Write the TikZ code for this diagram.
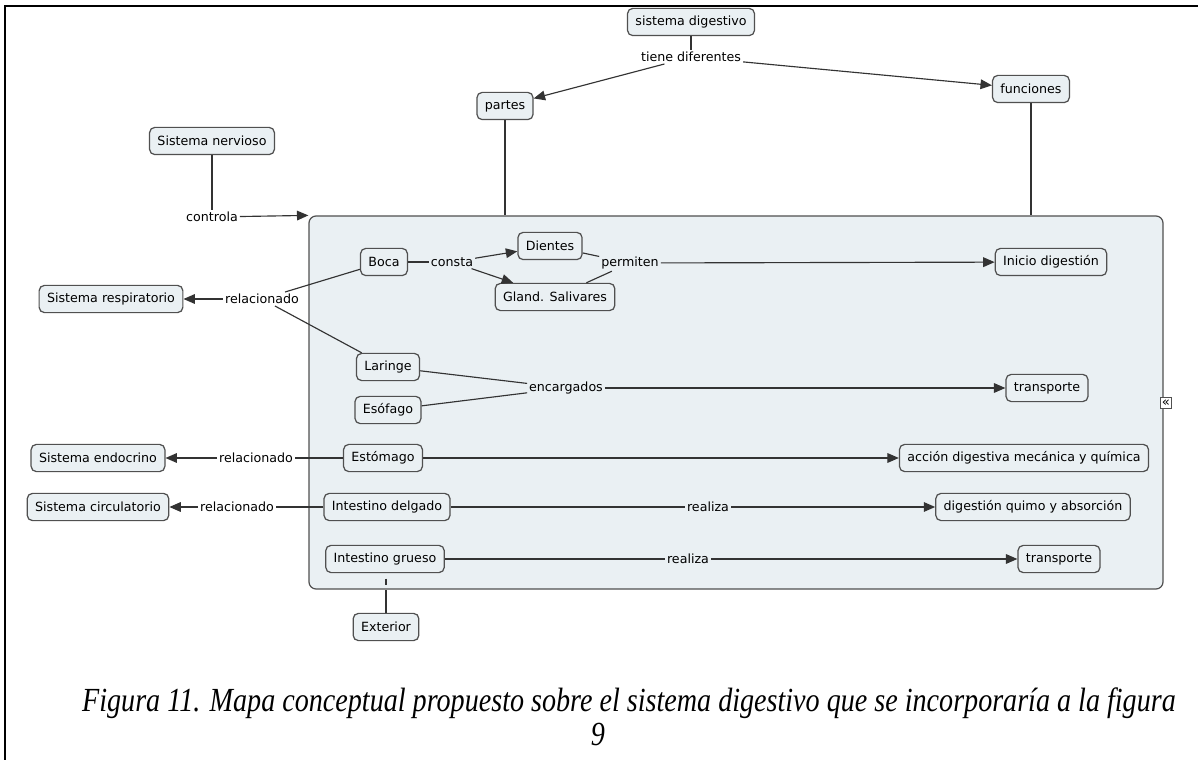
\documentclass[tikz,border=0pt]{standalone}
\usepackage{fontspec}
\usepackage{graphicx}
\setmainfont{Liberation Serif}
\newfontfamily\cmapfont{DejaVu Sans}
\usetikzlibrary{arrows.meta,fit}
\definecolor{cmapfill}{HTML}{EAF0F3}
\definecolor{cmapline}{HTML}{505050}
\tikzset{
  concepto/.style={draw=cmapline, fill=cmapfill, rounded corners=3pt, line width=0.7pt,
    inner xsep=4.5pt, inner ysep=0pt, minimum height=15.5pt},
  enlace/.style={inner sep=1pt},
  conector/.style={draw=black!80, line width=0.65pt},
  pie/.style={font=\rmfamily\itshape\fontsize{16}{19}\selectfont},
}
\begin{document}
\begin{tikzpicture}[x=0.02cm, y=-0.02cm, >={Triangle[length=6.5pt,width=5.5pt]},
    font=\cmapfont\fontsize{7.2}{8.6}\selectfont]
  \useasboundingbox (0,0) rectangle (1198,760);
  % Marco de la figura
  \draw[line width=1.7pt] (5,760) -- (5,6) -- (1198,6);

  % Recuadro de las partes
  \node (cont) [draw=cmapline, fill=cmapfill, rounded corners=4pt, line width=0.7pt,
    inner sep=0pt, fit={(309,216) (1163,589)}] {};
  \node (plegar) [draw=cmapline, fill=white, inner sep=0.3pt, minimum size=6pt,
    font=\cmapfont\fontsize{7.5}{7.5}\selectfont] at (1166,403) {«};

  % Conceptos superiores
  \node (sd) [concepto] at (691,22) {sistema digestivo};
  \node (tiene) [enlace] at (691,57) {tiene diferentes};
  \node (partes) [concepto] at (505,106) {partes};
  \node (funciones) [concepto] at (1031,89) {funciones};
  \node (nervioso) [concepto] at (212,141) {Sistema nervioso};
  \node (controla) [enlace] at (212,217) {controla};

  % Conceptos dentro del recuadro
  \node (boca) [concepto] at (384,262) {Boca};
  \node (consta) [enlace] at (452,262) {consta};
  \node (dientes) [concepto] at (550,246) {Dientes};
  \node (gland) [concepto] at (555,297) {Gland. Salivares};
  \node (permiten) [enlace] at (630,263) {permiten};
  \node (inicio) [concepto] at (1051,262) {Inicio digestión};
  \node (laringe) [concepto] at (388,367) {Laringe};
  \node (esofago) [concepto] at (388,410) {Esófago};
  \node (encarg) [enlace] at (566,388) {encargados};
  \node (transp1) [concepto] at (1047,388) {transporte};
  \node (estomago) [concepto] at (383,458) {Estómago};
  \node (accion) [concepto] at (1024,458) {acción digestiva mecánica y química};
  \node (delgado) [concepto] at (387,507) {Intestino delgado};
  \node (realiza1) [enlace] at (708,507) {realiza};
  \node (digest) [concepto] at (1033,507) {digestión quimo y absorción};
  \node (grueso) [concepto] at (385,559) {Intestino grueso};
  \node (realiza2) [enlace] at (688,559) {realiza};
  \node (transp2) [concepto] at (1059,559) {transporte};

  % Sistemas relacionados
  \node (relR) [enlace] at (262,299) {relacionado};
  \node (respir) [concepto] at (111,299) {Sistema respiratorio};
  \node (relE) [enlace] at (256,458) {relacionado};
  \node (endocr) [concepto] at (98,458) {Sistema endocrino};
  \node (relC) [enlace] at (237,507) {relacionado};
  \node (circul) [concepto] at (98,507) {Sistema circulatorio};
  \node (exterior) [concepto] at (386,627) {Exterior};

  % Enlaces
  \draw[conector] (sd) -- (tiene);
  \draw[conector, ->] (tiene) -- (partes);
  \draw[conector, ->] (tiene) -- (funciones);
  \draw[conector] (partes) -- (partes |- cont.north);
  \draw[conector] (funciones) -- (funciones |- cont.north);
  \draw[conector] (nervioso) -- (controla);
  \draw[conector, ->] (controla) -- (cont.north west);

  \draw[conector] (boca) -- (consta);
  \draw[conector, ->] (consta) -- (dientes);
  \draw[conector, ->] (consta) -- (gland);
  \draw[conector] (dientes) -- (permiten);
  \draw[conector] (gland) -- (permiten);
  \draw[conector, ->] (permiten) -- (inicio);
  \draw[conector] (boca) -- (relR);
  \draw[conector] (laringe) -- (relR);
  \draw[conector, ->] (relR) -- (respir);
  \draw[conector] (laringe) -- (encarg);
  \draw[conector] (esofago) -- (encarg);
  \draw[conector, ->] (encarg) -- (transp1);
  \draw[conector, ->] (estomago) -- (accion);
  \draw[conector] (estomago) -- (relE);
  \draw[conector, ->] (relE) -- (endocr);
  \draw[conector] (delgado) -- (realiza1);
  \draw[conector, ->] (realiza1) -- (digest);
  \draw[conector] (delgado) -- (relC);
  \draw[conector, ->] (relC) -- (circul);
  \draw[conector] (grueso) -- (realiza2);
  \draw[conector, ->] (realiza2) -- (transp2);
  \draw[conector] (exterior) -- (exterior |- cont.south);
  \draw[conector] ([yshift=-3pt]grueso.south -| exterior) -- ++(0,6);

  % Pie de figura
  \node (pie1) [pie] at (629,703) {\scalebox{1}[1.2]{Figura 11. Mapa conceptual propuesto sobre el sistema digestivo que se incorporaría a la figura}};
  \node (pie2) [pie] at (598,734) {\scalebox{1}[1.2]{9}};
\end{tikzpicture}
\end{document}
